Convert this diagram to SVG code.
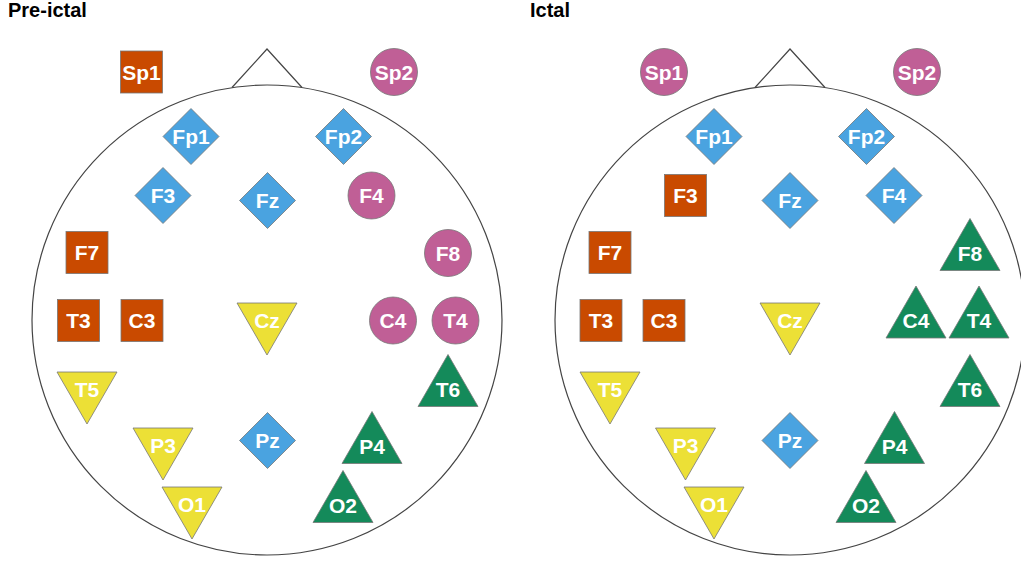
<svg xmlns="http://www.w3.org/2000/svg" xmlns:xlink="http://www.w3.org/1999/xlink" width="1021" height="561" viewBox="0 0 1021 561">
<style>
.title{font-family:"Liberation Sans",Arial,sans-serif;font-weight:bold;font-size:20px;fill:#000}
.head{fill:none;stroke:#444;stroke-width:1.2}
.nd text{font-family:"Liberation Sans",Arial,sans-serif;font-weight:bold;font-size:21px;fill:#fff;text-anchor:middle}
.o{fill:#C94A00;stroke:#777;stroke-width:0.8}
.p{fill:#C05F96;stroke:#777;stroke-width:0.8}
.b{fill:#4AA3E0;stroke:#777;stroke-width:0.8}
.y{fill:#ECE036;stroke:#777;stroke-width:0.8}
.g{fill:#148A5A;stroke:#777;stroke-width:0.8}
</style>
<defs>
<rect id="sq" x="-21" y="-21" width="42" height="42"/>
<circle id="ci" r="23.5"/>
<polygon id="di" points="0,-28 28,0 0,28 -28,0"/>
<polygon id="dn" points="-30,-17.5 30,-17.5 0,34.5"/>
<polygon id="up" points="0,-34.5 30,17.5 -30,17.5"/>
</defs>
<rect width="1021" height="561" fill="#fff"/>
<text class="title" x="8" y="17">Pre-ictal</text>
<text class="title" x="530" y="17">Ictal</text>
<g id="head-left">
<circle class="head" cx="267" cy="320" r="235"/>
<polyline class="head" points="232,87.5 267,49 302,87.5"/>
</g>
<g id="head-right">
<circle class="head" cx="790" cy="320" r="235"/>
<polyline class="head" points="755,87.5 790,49 825,87.5"/>
</g>
<g id="connectors"/>
<g id="pre">
<g id="pre-Sp1" class="nd" transform="translate(141.5,72)"><use href="#sq" class="o"/><text y="7.5">Sp1</text></g>
<g id="pre-Sp2" class="nd" transform="translate(394,72)"><use href="#ci" class="p"/><text y="7.5">Sp2</text></g>
<g id="pre-Fp1" class="nd" transform="translate(191,136.5)"><use href="#di" class="b"/><text y="7.5">Fp1</text></g>
<g id="pre-Fp2" class="nd" transform="translate(343.5,136.5)"><use href="#di" class="b"/><text y="7.5">Fp2</text></g>
<g id="pre-F3" class="nd" transform="translate(163,195.5)"><use href="#di" class="b"/><text y="7.5">F3</text></g>
<g id="pre-Fz" class="nd" transform="translate(267.5,200.5)"><use href="#di" class="b"/><text y="7.5">Fz</text></g>
<g id="pre-F4" class="nd" transform="translate(371.5,195.5)"><use href="#ci" class="p"/><text y="7.5">F4</text></g>
<g id="pre-F7" class="nd" transform="translate(87,252.5)"><use href="#sq" class="o"/><text y="7.5">F7</text></g>
<g id="pre-F8" class="nd" transform="translate(448,253)"><use href="#ci" class="p"/><text y="7.5">F8</text></g>
<g id="pre-T3" class="nd" transform="translate(78.5,320.5)"><use href="#sq" class="o"/><text y="7.5">T3</text></g>
<g id="pre-C3" class="nd" transform="translate(142,320.5)"><use href="#sq" class="o"/><text y="7.5">C3</text></g>
<g id="pre-Cz" class="nd" transform="translate(267,320.5)"><use href="#dn" class="y"/><text y="7.5">Cz</text></g>
<g id="pre-C4" class="nd" transform="translate(393,320.5)"><use href="#ci" class="p"/><text y="7.5">C4</text></g>
<g id="pre-T4" class="nd" transform="translate(455.5,320.5)"><use href="#ci" class="p"/><text y="7.5">T4</text></g>
<g id="pre-T5" class="nd" transform="translate(87,389.5)"><use href="#dn" class="y"/><text y="7.5">T5</text></g>
<g id="pre-T6" class="nd" transform="translate(448,389)"><use href="#up" class="g"/><text y="7.5">T6</text></g>
<g id="pre-P3" class="nd" transform="translate(163,445.5)"><use href="#dn" class="y"/><text y="7.5">P3</text></g>
<g id="pre-Pz" class="nd" transform="translate(267.5,440.5)"><use href="#di" class="b"/><text y="7.5">Pz</text></g>
<g id="pre-P4" class="nd" transform="translate(372,446)"><use href="#up" class="g"/><text y="7.5">P4</text></g>
<g id="pre-O1" class="nd" transform="translate(192,504.5)"><use href="#dn" class="y"/><text y="7.5">O1</text></g>
<g id="pre-O2" class="nd" transform="translate(343,505)"><use href="#up" class="g"/><text y="7.5">O2</text></g>
</g>
<g id="ictal">
<g id="ict-Sp1" class="nd" transform="translate(664,72)"><use href="#ci" class="p"/><text y="7.5">Sp1</text></g>
<g id="ict-Sp2" class="nd" transform="translate(917,72)"><use href="#ci" class="p"/><text y="7.5">Sp2</text></g>
<g id="ict-Fp1" class="nd" transform="translate(714,136.5)"><use href="#di" class="b"/><text y="7.5">Fp1</text></g>
<g id="ict-Fp2" class="nd" transform="translate(866.5,136.5)"><use href="#di" class="b"/><text y="7.5">Fp2</text></g>
<g id="ict-F3" class="nd" transform="translate(685.5,195.5)"><use href="#sq" class="o"/><text y="7.5">F3</text></g>
<g id="ict-Fz" class="nd" transform="translate(790,200.5)"><use href="#di" class="b"/><text y="7.5">Fz</text></g>
<g id="ict-F4" class="nd" transform="translate(894,195.5)"><use href="#di" class="b"/><text y="7.5">F4</text></g>
<g id="ict-F7" class="nd" transform="translate(610,252.5)"><use href="#sq" class="o"/><text y="7.5">F7</text></g>
<g id="ict-F8" class="nd" transform="translate(970,253)"><use href="#up" class="g"/><text y="7.5">F8</text></g>
<g id="ict-T3" class="nd" transform="translate(601,320.5)"><use href="#sq" class="o"/><text y="7.5">T3</text></g>
<g id="ict-C3" class="nd" transform="translate(664,320.5)"><use href="#sq" class="o"/><text y="7.5">C3</text></g>
<g id="ict-Cz" class="nd" transform="translate(790,320.5)"><use href="#dn" class="y"/><text y="7.5">Cz</text></g>
<g id="ict-C4" class="nd" transform="translate(916,320.5)"><use href="#up" class="g"/><text y="7.5">C4</text></g>
<g id="ict-T4" class="nd" transform="translate(979,320.5)"><use href="#up" class="g"/><text y="7.5">T4</text></g>
<g id="ict-T5" class="nd" transform="translate(610,389.5)"><use href="#dn" class="y"/><text y="7.5">T5</text></g>
<g id="ict-T6" class="nd" transform="translate(970,389)"><use href="#up" class="g"/><text y="7.5">T6</text></g>
<g id="ict-P3" class="nd" transform="translate(685.5,445.5)"><use href="#dn" class="y"/><text y="7.5">P3</text></g>
<g id="ict-Pz" class="nd" transform="translate(790,440.5)"><use href="#di" class="b"/><text y="7.5">Pz</text></g>
<g id="ict-P4" class="nd" transform="translate(894.5,446)"><use href="#up" class="g"/><text y="7.5">P4</text></g>
<g id="ict-O1" class="nd" transform="translate(714,504.5)"><use href="#dn" class="y"/><text y="7.5">O1</text></g>
<g id="ict-O2" class="nd" transform="translate(866,505)"><use href="#up" class="g"/><text y="7.5">O2</text></g>
</g>
</svg>
